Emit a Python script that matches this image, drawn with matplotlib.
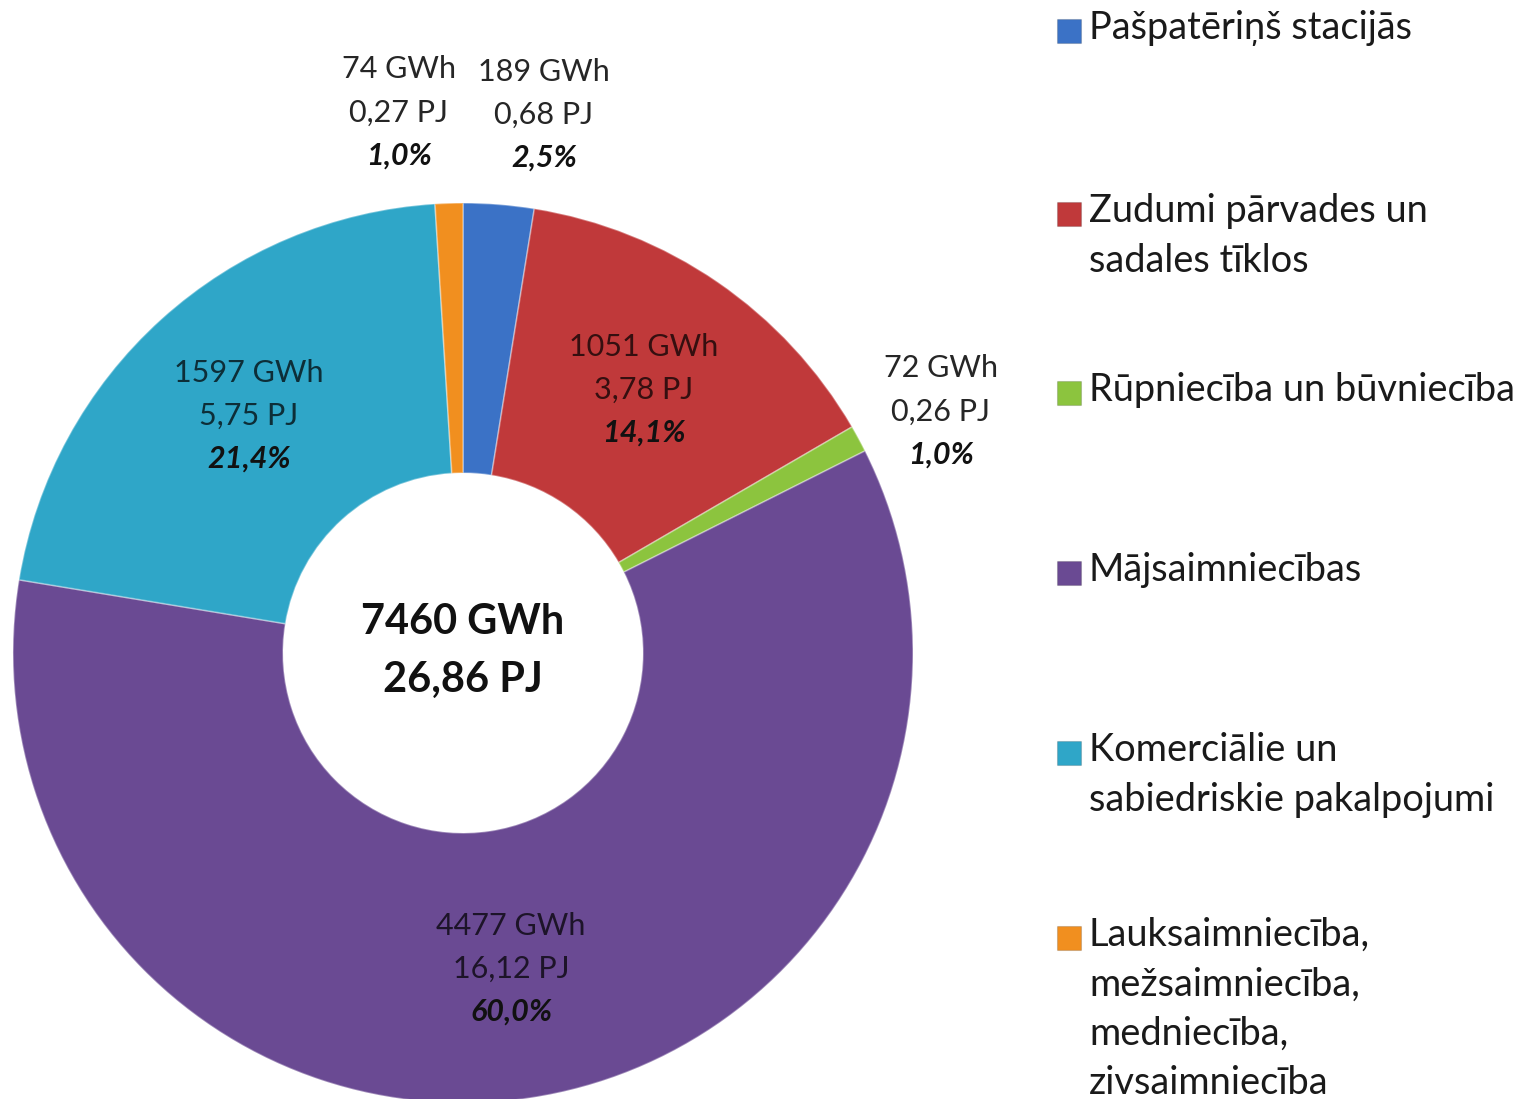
import numpy as np
import matplotlib
matplotlib.use("Agg")
import matplotlib.pyplot as plt
from matplotlib.patches import Rectangle

plt.rcParams['font.family'] = ['Lato', 'DejaVu Sans']

# ---- data ----
categories = [
    "Pašpatēriņš stacijās",
    "Zudumi pārvades un\nsadales tīklos",
    "Rūpniecība un būvniecība",
    "Mājsaimniecības",
    "Komerciālie un\nsabiedriskie pakalpojumi",
    "Lauksaimniecība,\nmežsaimniecība,\nmedniecība,\nzivsaimniecība",
]
gwh = [189, 1051, 72, 4477, 1597, 74]
pj = ["0,68", "3,78", "0,26", "16,12", "5,75", "0,27"]
pct = ["2,5%", "14,1%", "1,0%", "60,0%", "21,4%", "1,0%"]
total_gwh = "7460 GWh"
total_pj = "26,86 PJ"
colors = ["#3b72c6", "#c0393a", "#8cc43e", "#6a4a93", "#2fa6c8", "#f18f1f"]

W, H = 1525, 1099
DPI = 100
fig = plt.figure(figsize=(W / DPI, H / DPI), dpi=DPI)
ax = fig.add_axes([0, 0, 1, 1])

def P(x, y):
    return x, H - y

def pt(px):
    return px * 72.0 / DPI

cx, cy = P(463, 653)
R = 450
ring = 270

wedges, _ = ax.pie(gwh, colors=colors, startangle=90, counterclock=False,
                   center=(cx, cy), radius=R,
                   wedgeprops=dict(width=ring, edgecolor=(1, 1, 1, 0.35), linewidth=1.2))
ax.set_xlim(0, W)
ax.set_ylim(0, H)
ax.set_aspect('equal')
ax.axis('off')

# label placement: (radius factor, angle nudge deg)
place = [(1.21, -4.0), (0.71, 0), (1.19, -1.6), (0.71, 0), (0.71, 0), (1.21, 5.0)]
lab_fs = pt(30.5)
dy_line = 43
for i, w in enumerate(wedges):
    ang = np.deg2rad((w.theta1 + w.theta2) / 2 + place[i][1])
    r = R * place[i][0]
    x = cx + r * np.cos(ang)
    y = cy + r * np.sin(ang)
    inside = place[i][0] < 1
    col = (0, 0, 0, 0.72) if inside else "#262626"
    ax.text(x, y + dy_line, f"{gwh[i]} GWh", ha='center', va='center',
            fontsize=lab_fs, color=col)
    ax.text(x, y, f"{pj[i]} PJ", ha='center', va='center',
            fontsize=lab_fs, color=col)
    ax.text(x, y - dy_line, pct[i], ha='center', va='center',
            fontsize=lab_fs, color="#111111", fontweight='bold', fontstyle='italic')

# center total
ax.text(cx, cy + 31, total_gwh, ha='center', va='center', fontsize=pt(41.5),
        fontweight='bold', color="#111111")
ax.text(cx, cy - 27, total_pj, ha='center', va='center', fontsize=pt(41.5),
        fontweight='bold', color="#111111")

# legend
leg_y = [28, 211, 390, 570, 750, 935]
leg_fs = pt(38)
leg_ls = 49.5
for i, lab in enumerate(categories):
    lines = lab.split("\n")
    yt = leg_y[i]
    sx, sy = P(1057, yt + 15)
    ax.add_patch(Rectangle((sx, sy), 24, 24, facecolor=colors[i],
                           edgecolor=(0, 0, 0, 0.15), linewidth=0.8))
    for k, ln in enumerate(lines):
        tx, ty = P(1089, yt + k * leg_ls)
        ax.text(tx, ty, ln, ha='left', va='center', fontsize=leg_fs, color="#1a1a1a")

fig.savefig("out.png", dpi=DPI, facecolor='white')
